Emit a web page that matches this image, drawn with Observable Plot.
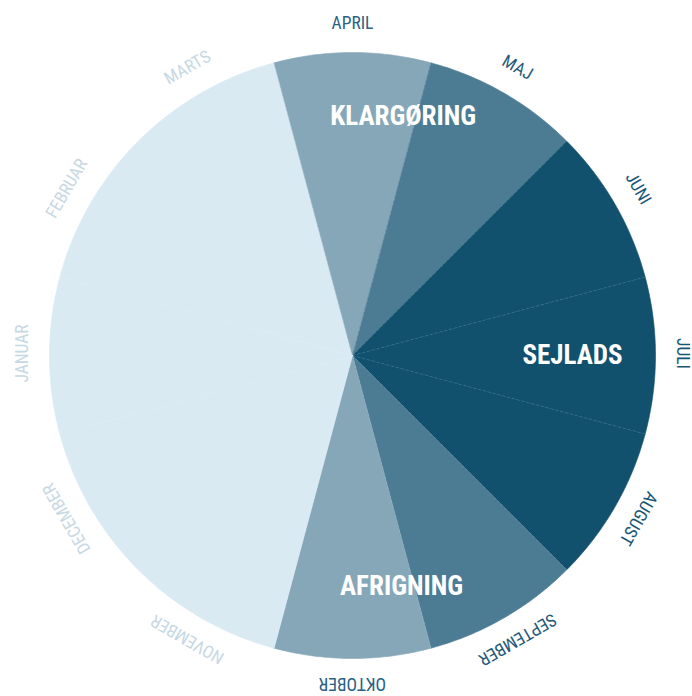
<!DOCTYPE html>
<html><head><meta charset="utf-8">
<script src="https://cdn.jsdelivr.net/npm/d3@7"></script>
<script src="https://cdn.jsdelivr.net/npm/@observablehq/plot@0.6"></script>
<style>
html,body{margin:0;padding:0;background:#fff;}
#chart svg{display:block;}
</style>
</head><body><div id="chart"></div>
<script>
// ---- data ----
const months = ["JANUAR","FEBRUAR","MARTS","APRIL","MAJ","JUNI","JULI","AUGUST","SEPTEMBER","OKTOBER","NOVEMBER","DECEMBER"];
const shares = [1,1,1,1,1,1,1,1,1,1,1,1];            // each month is an equal slice
const intensity = [0,0,0,1,2,3,3,3,2,1,0,0];           // colour level per month
const phaseNames = ["KLARGØRING","SEJLADS","AFRIGNING"];
const phaseMonths = [["APRIL","MAJ"],["JUNI","JULI","AUGUST"],["SEPTEMBER","OKTOBER"]];

// ---- style / layout ----
const W = 692, H = 696;
const R = 303;                       // pie radius in scale units (= px)
const sliceColors = ["#daeaf3","#86a7b7","#4b7c94","#11516e"];
const labelColors = ["#c6d8e3","#2a6283","#1f5a7a","#185676"];
const labelRadius = 330;
const phaseRadius = {"KLARGØRING":244, "SEJLADS":220, "AFRIGNING":236};
const phaseAngleShift = {"KLARGØRING":-3, "SEJLADS":0, "AFRIGNING":3};
const FONT = "'Roboto Condensed','Liberation Sans Narrow','Arial Narrow','DejaVu Sans Condensed',Roboto,sans-serif";

// ---- pie geometry via d3.pie (angles clockwise from 12 o'clock) ----
const step = 2*Math.PI/12;
const start = -Math.PI/2 - step/2;   // JANUAR centred on 9 o'clock
const arcs = d3.pie().sort(null).value(d => d.share).startAngle(start).endAngle(start + 2*Math.PI)(
  months.map((m,i) => ({month:m, share:shares[i], level:intensity[i]}))
);

const slicePts = [];
for (const a of arcs) {
  const n = 40;
  slicePts.push({month:a.data.month, level:a.data.level, x:0, y:0});
  for (let k = 0; k <= n; k++) {
    const t = a.startAngle + (a.endAngle - a.startAngle)*k/n;
    slicePts.push({month:a.data.month, level:a.data.level, x:R*Math.sin(t), y:R*Math.cos(t)});
  }
  slicePts.push({month:a.data.month, level:a.data.level, x:0, y:0});
}

// faint seams between slices
const seams = arcs.map(a => ({x1:0, y1:0, x2:R*Math.sin(a.startAngle), y2:R*Math.cos(a.startAngle)}));

const monthLabels = arcs.map(a => {
  const mid = (a.startAngle + a.endAngle)/2;
  return {text:a.data.month, level:a.data.level,
          x:labelRadius*Math.sin(mid), y:labelRadius*Math.cos(mid),
          rot: mid*180/Math.PI};
});

const phaseLabels = phaseNames.map((p,i) => {
  const as = arcs.filter(a => phaseMonths[i].includes(a.data.month));
  let mid = d3.mean(as, a => (a.startAngle + a.endAngle)/2) + phaseAngleShift[p]*Math.PI/180;
  const r = phaseRadius[p];
  return {text:p, x:r*Math.sin(mid), y:r*Math.cos(mid)};
});

const cx = 352, cy = 355;
const chart = Plot.plot({
  width: W, height: H,
  margin: 0,
  x: {domain:[-cx, W-cx], axis:null},
  y: {domain:[-(H-cy), cy], axis:null},
  color: {type:"ordinal", domain:[0,1,2,3], range:sliceColors},
  style: {background:"#fff", overflow:"visible"},
  marks: [
    Plot.line(slicePts, {x:"x", y:"y", z:"month", fill:"level", stroke:"level", strokeWidth:0.6, curve:"linear-closed"}),
    Plot.link(seams, {x1:"x1", y1:"y1", x2:"x2", y2:"y2", stroke:"#ffffff", strokeOpacity:0.18, strokeWidth:0.7, strokeDasharray:"3,2"}),
    Plot.text(monthLabels, {x:"x", y:"y", text:"text", rotate:"rot", dy:-2,
      fill: d => labelColors[d.level], fontSize:17.5, fontFamily:FONT, textAnchor:"middle", lineAnchor:"middle"}),
    Plot.text(phaseLabels, {x:"x", y:"y", text:"text", fill:"#fff", fontSize:27, fontWeight:"bold",
      fontFamily:FONT, textAnchor:"middle", lineAnchor:"middle"})
  ]
});
document.getElementById("chart").appendChild(chart);
</script>
</body></html>
